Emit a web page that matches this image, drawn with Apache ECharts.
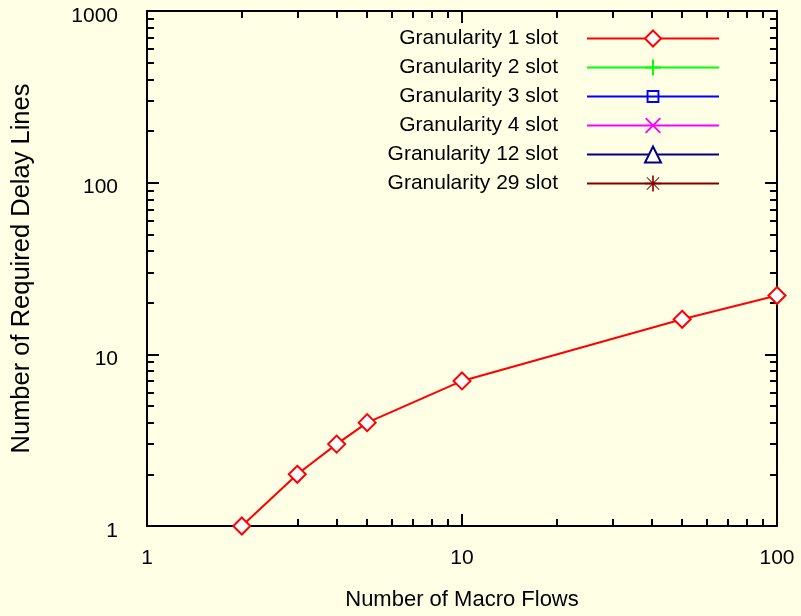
<!DOCTYPE html>
<html>
<head>
<meta charset="utf-8">
<script src="https://cdn.jsdelivr.net/npm/echarts@6/dist/echarts.min.js"></script>
<style>
html,body{margin:0;padding:0;background:#ffffe6;}
#chart{width:801px;height:616px;}
</style>
</head>
<body>
<div id="chart"></div>
<script>
const macroFlows = [2, 3, 4, 5, 10, 50, 100];
const gran1 = [1, 2, 3, 4, 7, 16, 22];
const gran2 = [];
const gran3 = [];
const gran4 = [];
const gran12 = [];
const gran29 = [];
const seriesNames = ['Granularity 1 slot', 'Granularity 2 slot', 'Granularity 3 slot', 'Granularity 4 slot', 'Granularity 12 slot', 'Granularity 29 slot'];
const seriesValues = [gran1, gran2, gran3, gran4, gran12, gran29];
const seriesColors = ['#ff0000', '#00ff00', '#0000ff', '#ff00ff', '#000080', '#800000'];
const plusPath = 'path://M8.8,0 H11.2 V8.8 H20 V11.2 H11.2 V20 H8.8 V11.2 H0 V8.8 H8.8 Z';
const crossPath = 'path://M1.7,0 L10,8.3 L18.3,0 L20,1.7 L11.7,10 L20,18.3 L18.3,20 L10,11.7 L1.7,20 L0,18.3 L8.3,10 L0,1.7 Z';
const starPath = 'path://M9,0 H11 V8.2 L17.4,1.8 L18.2,2.6 L11.8,9 H20 V11 H11.8 L18.2,17.4 L17.4,18.2 L11,11.8 V20 H9 V11.8 L2.6,18.2 L1.8,17.4 L8.2,11 H0 V9 H8.2 L1.8,2.6 L2.6,1.8 L9,8.2 Z';
const boxPath = 'path://M0,0 H0.01 V0.01 Z M19.99,19.99 H20 V20 Z M2,2 H18 V18 H2 Z M4.4,4.4 V15.6 H15.6 V4.4 Z';
const seriesSymbols = ['emptyDiamond', plusPath, boxPath, crossPath, 'emptyTriangle', starPath];
const seriesSymbolBorder = [2, 0, 0, 0, 2, 0];

const FONT = "'Liberation Sans', Arial, sans-serif";

const chart = echarts.init(document.getElementById('chart'));

function mkAxis(pos, showLabel, extra) {
  return Object.assign({
    type: 'log',
    logBase: 10,
    position: pos,
    axisLine: { show: true, onZero: false, lineStyle: { color: '#000', width: 2 } },
    axisTick: { show: true, inside: true, length: 12, lineStyle: { color: '#000', width: 2 } },
    minorTick: { show: true, splitNumber: 9, length: 7, lineStyle: { color: '#000', width: 2 } },
    splitLine: { show: false },
    minorSplitLine: { show: false },
    axisLabel: { show: showLabel, color: '#000', fontFamily: FONT, fontSize: 21 }
  }, extra);
}

const series = seriesNames.map((name, i) => ({
  name: name,
  type: 'line',
  xAxisIndex: 0,
  yAxisIndex: 0,
  data: seriesValues[i].map((v, j) => [macroFlows[j], v]),
  symbol: seriesSymbols[i],
  symbolSize: 17,
  showSymbol: true,
  color: seriesColors[i],
  lineStyle: { color: seriesColors[i], width: 2 },
  itemStyle: { color: seriesColors[i], borderColor: seriesColors[i], borderWidth: seriesSymbolBorder[i] },
  emphasis: { disabled: true },
  animation: false
}));

chart.setOption({
  backgroundColor: '#ffffe6',
  animation: false,
  grid: { left: 147, right: 24, top: 11, bottom: 90, containLabel: false },
  legend: {
    data: seriesNames,
    orient: 'vertical',
    align: 'right',
    right: 81,
    top: 28,
    padding: 0,
    itemWidth: 132,
    itemHeight: 20,
    itemGap: 8,
    selectedMode: false,
    textStyle: { color: '#000', fontFamily: FONT, fontSize: 21, padding: [0, 24, 0, 0] }
  },
  xAxis: [
    mkAxis('bottom', true, {
      min: 1, max: 100,
      name: 'Number of Macro Flows',
      nameLocation: 'middle',
      nameGap: 63,
      nameTextStyle: { color: '#000', fontFamily: FONT, fontSize: 22 },
      axisLabel: { show: true, color: '#000', fontFamily: FONT, fontSize: 21, margin: 22,
        formatter: function (v) { return String(v); } }
    }),
    mkAxis('top', false, { min: 1, max: 100 })
  ],
  yAxis: [
    mkAxis('left', true, {
      min: 1, max: 1000,
      name: 'Number of Required Delay Lines',
      nameLocation: 'middle',
      nameGap: 112,
      nameRotate: 90,
      nameTextStyle: { color: '#000', fontFamily: FONT, fontSize: 25.5 },
      axisLabel: { show: true, color: '#000', fontFamily: FONT, fontSize: 21, margin: 29,
        formatter: function (v) { return '{a|' + String(v) + '}'; },
        rich: { a: { color: '#000', fontFamily: FONT, fontSize: 21, padding: [10, 0, 0, 0] } } }
    }),
    mkAxis('right', false, { min: 1, max: 1000 })
  ],
  series: series
});
</script>
</body>
</html>
